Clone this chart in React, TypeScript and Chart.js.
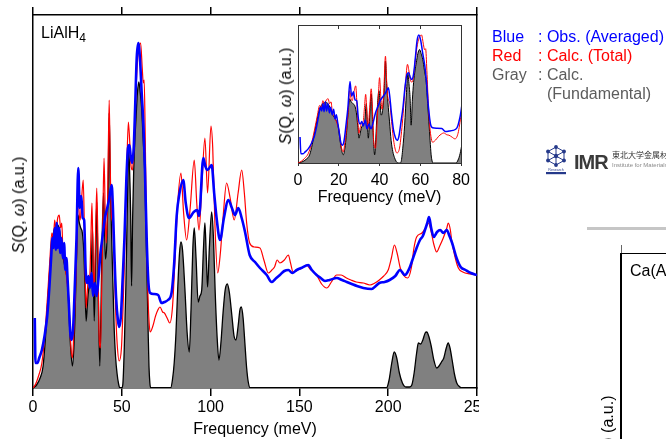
import React, { useEffect, useRef } from 'react';
import { Chart, registerables } from 'chart.js';

Chart.register(...registerables);

const FONT = '"Liberation Sans", Arial, Helvetica, sans-serif';

// ---- tick labels ----
const mainTicks = [0, 50, 100, 150, 200, 250];
const insetTicks = [0, 20, 40, 60, 80];

// ---- Observed (averaged), blue ----
const obsEnergy = [
  1.0, 1.4, 2.5, 3.5, 5, 6.5, 8, 9.2, 10.2, 11, 11.6, 12.2, 12.8, 13.4, 14, 14.7, 15.4, 16, 16.8, 17.5,
  18.2, 18.8, 19.5, 20.3, 21, 21.8, 22.6, 23.5, 24.5, 25.5, 26.3, 27.2, 28, 28.8, 29.6, 30.5, 31.3, 32, 33, 33.8,
  34.8, 35.8, 36.8, 38, 39.2, 40.5, 41.8, 43, 44.3, 45, 45.8, 46.8, 47.8, 48.6, 49.5, 50.5, 51.5, 52.5, 53.5, 54.3,
  55, 55.8, 56.7, 57.5, 58.4, 59.3, 60.2, 61.2, 62.2, 63, 64, 65, 66, 68, 70.5, 72.3, 74, 76, 78, 79.5,
  80.9, 82.5, 84.6, 86, 87.8, 90.5, 92.4, 93.5, 95.9, 97, 98.3, 100.6, 102, 103.5, 105.3, 107.5, 110, 112, 113.7, 115.6,
  117.5, 119.4, 122, 125, 127.8, 131.6, 134.4, 137, 139, 141.5, 143.8, 146, 148.5, 151, 155, 157, 159.7, 162, 164.4, 167,
  171, 174, 176.7, 179.5, 182.4, 186, 190.7, 193, 195, 198, 200.8, 204, 206.6, 209.4, 212, 214, 216, 217.9, 219.5, 220.7,
  222, 223, 224.2, 225.6, 227.5, 229.3, 231, 233, 234.5, 236, 238.5, 240.8, 243.5, 246.5, 250,
];
const obsIntensity = [
  70, 25, 25, 30, 38, 52, 72, 100, 130, 150, 140, 160, 138, 165, 140, 160, 135, 150, 130, 145,
  118, 130, 108, 80, 55, 48, 60, 100, 150, 220, 180, 192, 170, 168, 120, 105, 112, 100, 115, 92,
  105, 92, 108, 135, 152, 170, 180, 190, 203, 180, 135, 90, 68, 61, 72, 110, 150, 205, 240, 243,
  232, 225, 240, 280, 330, 345, 330, 295, 262, 220, 150, 105, 95, 94, 93, 85, 86, 88, 95, 125,
  172, 195, 208, 185, 170, 176, 178, 172, 230, 222, 218, 223, 195, 168, 148, 170, 188, 180, 173, 180,
  170, 156, 133, 126, 120, 113, 106, 110, 113, 117, 118, 115, 118, 120, 123, 118, 113, 110, 107, 108,
  110, 108, 106, 104, 102, 100, 99, 102, 105, 106, 108, 112, 118, 113, 120, 130, 140, 148, 152, 158,
  165, 171, 160, 151, 156, 158, 155, 158, 152, 145, 130, 121, 118, 115, 113,
];

// ---- Calculated (total), red ----
const calcEnergy = [
  0, 1.5, 3.3, 5, 6.5, 8.2, 9.5, 10.6, 11.5, 12.2, 13, 13.9, 14.8, 15.5, 16.2, 16.8, 17.8, 18.8, 19.5, 20.1,
  21.2, 22.2, 23, 23.7, 24.5, 25.3, 26.1, 26.6, 27.4, 28.3, 29, 29.9, 30.5, 31, 32, 32.6, 33.2, 33.8, 34.3, 35.2,
  35.9, 36.5, 37.1, 38, 38.7, 39.3, 40, 40.6, 41.2, 42, 42.9, 43.5, 44.2, 44.9, 45.9, 46.7, 47.4, 48.5, 49.8, 50.6,
  51.4, 52.2, 52.8, 53.7, 54.5, 55.2, 56, 56.8, 57.6, 58.6, 59.6, 60.6, 61.5, 62.1, 62.6, 63.2, 64, 64.6, 65.4, 66,
  67.5, 69, 70.3, 71.5, 73, 74, 75.5, 77, 78.5, 80, 81.5, 83.3, 84.8, 86.5, 88.5, 90.8, 92.2, 93.5, 95, 96.8,
  98.3, 100.2, 101.2, 102.5, 104, 105.5, 107, 109, 111, 113.3, 115.5, 117.5, 119, 120.3, 122, 124.5, 127.8, 130, 132.5, 134.5,
  136, 137.5, 139, 141.5, 143.8, 145, 146.5, 149, 151.5, 154, 156, 158, 160, 162.5, 165.4, 168, 171, 173.5, 176.5, 179,
  182, 186, 189.7, 192.5, 195, 197.5, 200, 201.8, 203.5, 205, 206.8, 208.5, 211, 213, 214.5, 216, 219, 221, 222.6, 224,
  225.5, 227.3, 229, 231, 233, 233.8, 235, 235.7, 237.5, 239.5, 242, 246, 250,
];
const calcIntensity = [
  0, 4, 13, 25, 50, 92, 128, 155, 150, 168, 158, 170, 173, 160, 165, 140, 125, 112, 100, 90,
  45, 30, 55, 85, 130, 195, 172, 168, 190, 208, 150, 80, 95, 105, 112, 150, 185, 130, 92, 150,
  200, 150, 60, 40, 100, 165, 230, 180, 145, 185, 288, 220, 172, 165, 112, 70, 44, 27, 40, 75,
  120, 180, 220, 266, 245, 222, 218, 240, 280, 320, 340, 345, 320, 305, 308, 250, 150, 100, 65, 56,
  62, 72, 78, 81, 76, 75, 70, 65, 80, 130, 185, 215, 175, 148, 180, 228, 185, 158, 200, 250,
  195, 262, 240, 160, 115, 135, 170, 205, 190, 168, 195, 218, 195, 165, 145, 141, 140, 128, 115, 118,
  121, 128, 125, 128, 133, 125, 116, 118, 120, 123, 119, 116, 112, 104, 100, 106, 113, 113, 110, 108,
  106, 105, 103, 105, 108, 112, 118, 130, 143, 135, 120, 113, 110, 120, 140, 151, 155, 160, 165, 158,
  145, 136, 142, 150, 160, 165, 158, 148, 132, 120, 116, 114, 113,
];

// ---- Calculated (fundamental), gray ----
const fundEnergy = [
  0, 2, 4, 5.7, 7, 8.2, 9.4, 10.6, 12.2, 13.5, 14.7, 16, 17.1, 18.4, 19.6, 20.4, 21.2, 22.2, 23, 23.7,
  24.5, 25.3, 26.1, 26.9, 27.8, 28.6, 29.3, 29.9, 30.5, 31, 32, 32.7, 33.5, 34, 34.5, 35.2, 35.9, 36.7, 37.6, 38.2,
  38.7, 39.7, 40.3, 40.8, 41.6, 42.3, 42.9, 43.5, 44.1, 44.9, 45.7, 46.5, 47.3, 48.2, 49, 50, 50.6, 51.4, 52.3, 53.2,
  53.9, 54.5, 55, 55.5, 56.1, 56.7, 57.4, 58, 58.8, 59.6, 60.4, 61.2, 62, 62.9, 63.6, 64.2, 64.8, 65.3, 65.8, 66.3,
  77.5, 78.5, 79.5, 80.5, 81.5, 82.5, 83.3, 84.2, 85.5, 86.8, 88, 89, 90, 90.8, 91.8, 93, 94, 95, 96, 96.8,
  97.6, 98.3, 99.3, 100.6, 101.6, 102.6, 103.7, 104.7, 105.8, 107, 108.2, 109.4, 110.6, 112, 113.2, 114.3, 115.5, 116.5, 117.3, 118.3,
  119.3, 120.3, 121.2, 122.3, 199, 200.5, 202, 203.4, 204.8, 206.3, 208, 210, 212, 213.3, 214.6, 216, 217, 218.3, 219.5, 220.8,
  221.7, 222.8, 224.2, 225.7, 227.3, 228.6, 230, 231.3, 232.7, 233.8, 234.8, 236, 237.3, 238.6, 240.4, 242, 250,
];
const fundIntensity = [
  0, 3, 10, 22, 50, 84, 118, 146, 160, 163, 160, 145, 129, 118, 102, 70, 40, 22, 40, 75,
  130, 173, 165, 160, 155, 137, 100, 67, 80, 93, 105, 111, 160, 110, 67, 130, 186, 100, 22, 70,
  129, 195, 160, 129, 146, 200, 275, 210, 164, 111, 60, 31, 15, 4, 0, 0, 4, 40, 102, 190,
  240, 210, 173, 102, 170, 217, 250, 270, 295, 306, 295, 279, 250, 217, 160, 111, 60, 22, 5, 0,
  0, 8, 25, 55, 100, 135, 146, 138, 100, 55, 36, 80, 140, 160, 130, 86, 92, 98, 140, 165,
  130, 101, 140, 176, 150, 95, 50, 28, 45, 75, 98, 104, 95, 72, 52, 48, 62, 78, 81, 70,
  45, 20, 6, 0, 0, 8, 25, 36, 30, 15, 5, 1, 1, 3, 15, 35, 45, 44, 48, 55,
  56, 52, 42, 28, 20, 22, 26, 30, 40, 45, 40, 28, 14, 5, 1, 0, 0,
];

const pts = (xs: number[], ys: number[]) => xs.map((x, i) => ({ x, y: ys[i] }));

function makeDatasets(wBlue: number, wRed: number, wBlack: number) {
  return [
    {
      label: 'Obs. (Averaged)',
      data: pts(obsEnergy, obsIntensity),
      borderColor: '#0000ff',
      borderWidth: wBlue,
      pointRadius: 0,
      fill: false,
      cubicInterpolationMode: 'monotone' as const,
    },
    {
      label: 'Calc. (Total)',
      data: pts(calcEnergy, calcIntensity),
      borderColor: '#ff0000',
      borderWidth: wRed,
      pointRadius: 0,
      fill: false,
      cubicInterpolationMode: 'monotone' as const,
    },
    {
      label: 'Calc. (Fundamental)',
      data: pts(fundEnergy, fundIntensity),
      borderColor: '#000000',
      backgroundColor: '#808080',
      borderWidth: wBlack,
      pointRadius: 0,
      fill: 'origin',
      cubicInterpolationMode: 'monotone' as const,
    },
  ];
}

function frameScales(opts: {
  xmin: number; xmax: number; ymax: number; ticks: number[];
  bottomH: number; topH: number; leftW: number;
  bottomTick: number; topTick: number; color: string; bw: number; labelPad: number;
}) {
  const setTicks = (s: any) => { s.ticks = opts.ticks.map((v) => ({ value: v })); };
  const border = { display: true, color: opts.color, width: opts.bw };
  return {
    x: {
      type: 'linear', position: 'bottom', min: opts.xmin, max: opts.xmax,
      afterBuildTicks: setTicks,
      ticks: { font: { size: 16, family: FONT }, color: '#000', padding: opts.labelPad, maxRotation: 0, autoSkip: false },
      grid: { drawOnChartArea: false, drawTicks: true, tickLength: opts.bottomTick, color: opts.color, lineWidth: opts.bw },
      border,
      title: { display: true, text: 'Frequency (meV)', font: { size: 16, family: FONT }, color: '#000', padding: { top: 0, bottom: 0 } },
      afterFit: (s: any) => { s.height = opts.bottomH; },
    },
    xTop: {
      type: 'linear', position: 'top', min: opts.xmin, max: opts.xmax,
      afterBuildTicks: setTicks,
      ticks: { display: false },
      grid: { drawOnChartArea: false, drawTicks: true, tickLength: opts.topTick, color: opts.color, lineWidth: opts.bw },
      border,
      afterFit: (s: any) => { s.height = opts.topH; },
    },
    y: {
      type: 'linear', position: 'left', min: 0, max: opts.ymax,
      ticks: { display: false }, grid: { display: false }, border,
      afterFit: (s: any) => { s.width = opts.leftW; },
    },
    yRight: {
      type: 'linear', position: 'right', min: 0, max: opts.ymax,
      ticks: { display: false }, grid: { display: false }, border,
      afterFit: (s: any) => { s.width = 0; },
    },
  };
}

function ChartCanvas({ build, left, top, width, height, bg }: any) {
  const ref = useRef<HTMLCanvasElement>(null);
  useEffect(() => {
    const chart = new Chart(ref.current as HTMLCanvasElement, build());
    return () => chart.destroy();
  }, []);
  return (
    <canvas
      ref={ref}
      width={width}
      height={height}
      style={{ position: 'absolute', left, top, width, height, background: bg || 'transparent' }}
    />
  );
}

const mainConfig = () => ({
  type: 'line',
  data: { datasets: makeDatasets(2.6, 1.2, 1.3) },
  options: {
    responsive: false,
    animation: false,
    devicePixelRatio: 1,
    layout: { padding: { left: 0, right: 23, top: 0, bottom: 0 } },
    plugins: { legend: { display: false }, tooltip: { enabled: false } },
    scales: frameScales({
      xmin: 0, xmax: 250, ymax: 373, ticks: mainTicks,
      bottomH: 51, topH: 15, leftW: 33, bottomTick: 8, topTick: 8,
      color: '#000', bw: 1.5, labelPad: 2,
    }),
  },
});

const insetConfig = () => ({
  type: 'line',
  data: { datasets: makeDatasets(1.5, 1, 1) },
  options: {
    responsive: false,
    animation: false,
    devicePixelRatio: 1,
    layout: { padding: { left: 0, right: 13, top: 0, bottom: 0 } },
    plugins: { legend: { display: false }, tooltip: { enabled: false } },
    scales: frameScales({
      xmin: 0, xmax: 80, ymax: 372, ticks: insetTicks,
      bottomH: 44, topH: 5, leftW: 28, bottomTick: 3, topTick: -4,
      color: '#333', bw: 1, labelPad: 5,
    }),
  },
});

const txt = (extra: React.CSSProperties): React.CSSProperties => ({
  position: 'absolute',
  fontFamily: FONT,
  fontSize: 16,
  lineHeight: '16px',
  whiteSpace: 'nowrap',
  ...extra,
});

function YTitle({ x, y }: { x: number; y: number }) {
  return (
    <div
      style={txt({
        left: x,
        top: y,
        color: '#000',
        transform: 'translate(-50%, -50%) rotate(-90deg)',
      })}
    >
      <i>S</i>(Q, <i>ω</i>) (a.u.)
    </div>
  );
}

function Logo() {
  const navy = '#25398a';
  const c = [12, 11];
  const v = [[12, 2], [20, 6.5], [20, 15.5], [12, 20], [4, 15.5], [4, 6.5]];
  return (
    <svg style={{ position: 'absolute', left: 544, top: 145 }} width={24} height={31} viewBox="0 0 24 31">
      {v.map((p, i) => {
        const q = v[(i + 1) % v.length];
        return <line key={'e' + i} x1={p[0]} y1={p[1]} x2={q[0]} y2={q[1]} stroke={navy} strokeWidth={1} />;
      })}
      {v.map((p, i) => (
        <line key={'s' + i} x1={c[0]} y1={c[1]} x2={p[0]} y2={p[1]} stroke={navy} strokeWidth={1} />
      ))}
      {v.map((p, i) => (
        <circle key={'n' + i} cx={p[0]} cy={p[1]} r={1.9} fill={navy} />
      ))}
      <circle cx={c[0]} cy={c[1]} r={2.2} fill={navy} />
      <text x={12} y={25.5} fontSize={3.6} textAnchor="middle" fill={navy} fontFamily={FONT}>Research</text>
      <rect x={2} y={27} width={20} height={2.2} fill={navy} />
    </svg>
  );
}

export default function App() {
  return (
    <div
      style={{
        position: 'fixed',
        left: 0,
        top: 0,
        width: 666,
        height: 439,
        overflow: 'hidden',
        background: '#ffffff',
      }}
    >
      <ChartCanvas build={mainConfig} left={0} top={0} width={500} height={439} />
      {/* right-hand panel covers the clipped part of the main chart */}
      <div style={{ position: 'absolute', left: 479, top: 0, width: 187, height: 439, background: '#fff' }} />
      <ChartCanvas build={insetConfig} left={270} top={20} width={205} height={187} bg="#fff" />

      <YTitle x={19} y={205} />
      <YTitle x={286} y={96} />

      <div style={txt({ left: 41, top: 24.5, color: '#000' })}>
        LiAlH<span style={{ fontSize: 12, position: 'relative', top: 4 }}>4</span>
      </div>

      {/* legend text */}
      <div style={txt({ left: 492, top: 28.5, color: '#0000ff' })}>Blue</div>
      <div style={txt({ left: 538, top: 28.5, color: '#0000ff' })}>: Obs. (Averaged)</div>
      <div style={txt({ left: 492, top: 47.5, color: '#ff0000' })}>Red</div>
      <div style={txt({ left: 538, top: 47.5, color: '#ff0000' })}>: Calc. (Total)</div>
      <div style={txt({ left: 492, top: 67, color: '#5c5c5c' })}>Gray</div>
      <div style={txt({ left: 538, top: 67, color: '#5c5c5c' })}>: Calc.</div>
      <div style={txt({ left: 547, top: 86, color: '#5c5c5c' })}>(Fundamental)</div>

      {/* IMR logo */}
      <Logo />
      <div style={txt({ left: 574, top: 151.5, fontSize: 20, lineHeight: '20px', fontWeight: 'bold', color: '#3a3a3a', letterSpacing: -1 })}>IMR</div>
      <div style={txt({ left: 612, top: 151, fontSize: 8, lineHeight: '8px', color: '#333', fontFamily: '"Noto Sans CJK JP", sans-serif' })}>東北大学金属材料研究所</div>
      <div style={txt({ left: 612, top: 162, fontSize: 6, lineHeight: '6px', color: '#8a8a8a' })}>Institute for Materials Research</div>

      {/* next panel (partially visible) */}
      <div style={{ position: 'absolute', left: 587, top: 227, width: 79, height: 3, background: '#c6c6c6' }} />
      <div style={{ position: 'absolute', left: 620, top: 252.5, width: 46, height: 1.5, background: '#000' }} />
      <div style={{ position: 'absolute', left: 620, top: 252.5, width: 1.5, height: 187, background: '#000' }} />
      <div style={{ position: 'absolute', left: 621, top: 245, width: 1, height: 8, background: '#666' }} />
      <div style={txt({ left: 630, top: 262.5, color: '#000' })}>Ca(AlH<span style={{ fontSize: 12, position: 'relative', top: 4 }}>4</span>)<span style={{ fontSize: 12, position: 'relative', top: 4 }}>2</span></div>
      <YTitle x={608} y={444} />
    </div>
  );
}
